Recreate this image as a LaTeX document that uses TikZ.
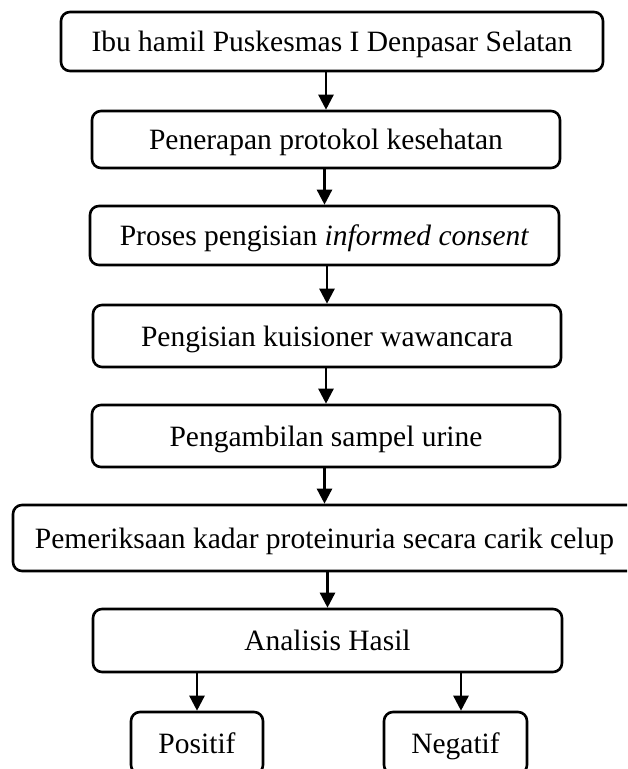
\documentclass[tikz,border=0pt]{standalone}
\usepackage{fontspec}
\setmainfont{Liberation Serif}
\usetikzlibrary{arrows.meta}
\tikzset{
  flowbox/.style={draw, line width=2.6pt, rounded corners=9pt, inner sep=0pt,
    text height=20pt, text depth=0pt, font=\fontsize{29.5}{35}\selectfont},
  arr/.style={line width=2.5pt, -{Triangle[length=15pt,width=15pt]}}
}
\begin{document}
\begin{tikzpicture}[x=1pt,y=-1pt]
\useasboundingbox (0,0) rectangle (627,769);
\clip (0,0) rectangle (627,769);
\node[flowbox, minimum width=542pt, minimum height=59pt] (b1) at (332,41.5) {Ibu hamil Puskesmas I Denpasar Selatan};
\node[flowbox, minimum width=468pt, minimum height=57pt] (b2) at (326,139.5) {Penerapan protokol kesehatan};
\node[flowbox, minimum width=469pt, minimum height=59pt] (b3) at (324.5,235.5) {Proses pengisian \textit{informed consent}};
\node[flowbox, minimum width=468pt, minimum height=62pt] (b4) at (327,336) {Pengisian kuisioner wawancara};
\node[flowbox, minimum width=468pt, minimum height=62pt] (b5) at (326,436) {Pengambilan sampel urine};
\node[flowbox, minimum width=623pt, minimum height=66pt] (b6) at (324.5,538) {Pemeriksaan kadar proteinuria secara carik celup};
\node[flowbox, minimum width=469pt, minimum height=63pt] (b7) at (327.5,640.5) {Analisis Hasil};
\node[flowbox, minimum width=132pt, minimum height=62pt] (pos) at (197,743) {Positif};
\node[flowbox, minimum width=143pt, minimum height=62pt] (neg) at (455.5,743) {Negatif};
\draw[arr] (b1.south -| b2.north) -- (b2.north);
\draw[arr] (b2.south -| b3.north) -- (b3.north);
\draw[arr] (b3.south -| b4.north) -- (b4.north);
\draw[arr] (b4.south -| b5.north) -- (b5.north);
\draw[arr] (b5.south -| b6.north) -- (b6.north);
\draw[arr] (b6.south -| b7.north) -- (b7.north);
\draw[arr] (b7.south -| pos.north) -- (pos.north);
\draw[arr] ([xshift=5.5pt]b7.south -| neg.north) -- ([xshift=5.5pt]neg.north);
\end{tikzpicture}
\end{document}
